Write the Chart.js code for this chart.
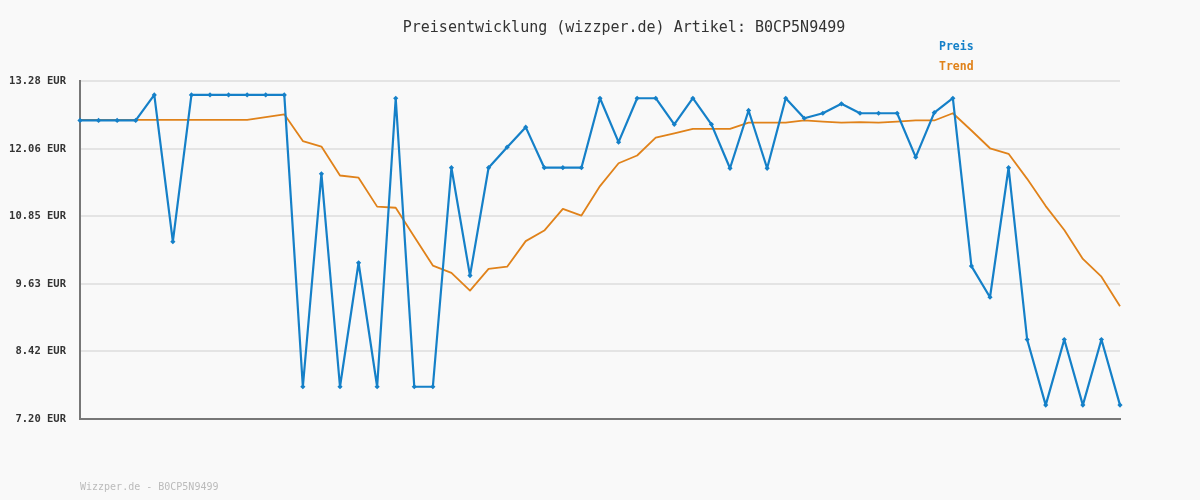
<!DOCTYPE html>
<html lang="de">
<head>
    <meta charset="UTF-8">
    <title>Preisentwicklung B0CP5N9499</title>
    <script src="https://cdn.jsdelivr.net/npm/chart.js"></script>
    <style>
        html, body {
            margin: 0;
            padding: 0;
            background: #f9f9f9;
        }
        #wrap {
            width: 1200px;
            height: 500px;
        }
    </style>
</head>
<body>
    <div id="wrap"><canvas id="priceChart"></canvas></div>
    <script>
        const titleText = "Preisentwicklung (wizzper.de) Artikel: B0CP5N9499";
        const footerText = "Wizzper.de - B0CP5N9499";
        const seriesNames = ["Preis", "Trend"];

        // one entry per price check, 57 in total
        const priceValues = [
            12.57, 12.57, 12.57, 12.57, 13.03, 10.39, 13.03, 13.03, 13.03, 13.03,
            13.03, 13.03, 7.78, 11.61, 7.78, 10.01, 7.78, 12.97, 7.78, 7.78,
            11.72, 9.78, 11.72, 12.09, 12.45, 11.72, 11.72, 11.72, 12.97, 12.18,
            12.97, 12.97, 12.50, 12.97, 12.50, 11.71, 12.75, 11.71, 12.97, 12.61,
            12.70, 12.87, 12.70, 12.70, 12.70, 11.91, 12.71, 12.97, 9.95, 9.39,
            11.72, 8.63, 7.45, 8.63, 7.45, 8.63, 7.45
        ];
        const trendValues = [
            12.58, 12.58, 12.58, 12.58, 12.58, 12.58, 12.58, 12.58, 12.58, 12.58,
            12.63, 12.68, 12.20, 12.10, 11.58, 11.54, 11.02, 11.00, 10.48, 9.96,
            9.83, 9.51, 9.90, 9.94, 10.40, 10.59, 10.98, 10.86, 11.39, 11.80,
            11.94, 12.26, 12.34, 12.42, 12.42, 12.42, 12.53, 12.53, 12.53, 12.57,
            12.55, 12.53, 12.54, 12.53, 12.55, 12.57, 12.57, 12.70, 12.39, 12.07,
            11.97, 11.52, 11.03, 10.60, 10.08, 9.76, 9.23
        ];
        const yTicks = [7.20, 8.42, 9.63, 10.85, 12.06, 13.28];

        const labels = priceValues.map((_, i) => String(i + 1));
        const blue = "#1580c8";
        const orange = "#e0821a";
        const mono = "'DejaVu Sans Mono', monospace";

        // title, legend and footer text drawn on the canvas
        const textPlugin = {
            id: "texts",
            afterDraw(chart) {
                const ctx = chart.ctx;
                ctx.save();
                ctx.textBaseline = "middle";
                ctx.textAlign = "center";
                ctx.fillStyle = "#333";
                ctx.font = "15px " + mono;
                ctx.fillText(titleText, 624, 28);

                ctx.textAlign = "left";
                ctx.font = "bold 11.5px " + mono;
                ctx.fillStyle = blue;
                ctx.fillText(seriesNames[0], 939, 47);
                ctx.fillStyle = orange;
                ctx.fillText(seriesNames[1], 939, 67);

                ctx.font = "10px " + mono;
                ctx.fillStyle = "#bbb";
                ctx.fillText(footerText, 80, 487);
                ctx.restore();
            }
        };

        new Chart(document.getElementById("priceChart"), {
            type: "line",
            data: {
                labels,
                datasets: [
                    {
                        label: seriesNames[0],
                        data: priceValues,
                        borderColor: blue,
                        backgroundColor: blue,
                        borderWidth: 2.2,
                        borderJoinStyle: "round",
                        pointStyle: "rectRot",
                        pointRadius: 2.6,
                        pointBorderWidth: 0,
                        tension: 0,
                        order: 1
                    },
                    {
                        label: seriesNames[1],
                        data: trendValues,
                        borderColor: orange,
                        borderWidth: 1.8,
                        borderJoinStyle: "round",
                        pointRadius: 0,
                        tension: 0,
                        order: 2
                    }
                ]
            },
            options: {
                responsive: true,
                maintainAspectRatio: false,
                animation: false,
                layout: { padding: { left: 0, right: 80, top: 81, bottom: 81 } },
                plugins: {
                    legend: { display: false },
                    tooltip: { enabled: false }
                },
                scales: {
                    x: {
                        offset: false,
                        grid: { display: false },
                        ticks: { display: false },
                        border: { display: true, color: "#777", width: 2 },
                        afterFit: (scale) => { scale.height = 0; }
                    },
                    y: {
                        min: yTicks[0],
                        max: yTicks[yTicks.length - 1],
                        afterBuildTicks: (scale) => {
                            scale.ticks = yTicks.map(v => ({ value: v }));
                        },
                        afterFit: (scale) => { scale.width = 80; },
                        grid: { color: "#e4e4e4", lineWidth: 2, drawTicks: false },
                        border: { display: true, color: "#777", width: 2 },
                        ticks: {
                            padding: 14,
                            color: "#333",
                            font: { family: mono, size: 10.5, weight: "bold" },
                            callback: (v) => Number(v).toFixed(2) + " EUR"
                        }
                    }
                }
            },
            plugins: [textPlugin]
        });
    </script>
</body>
</html>
